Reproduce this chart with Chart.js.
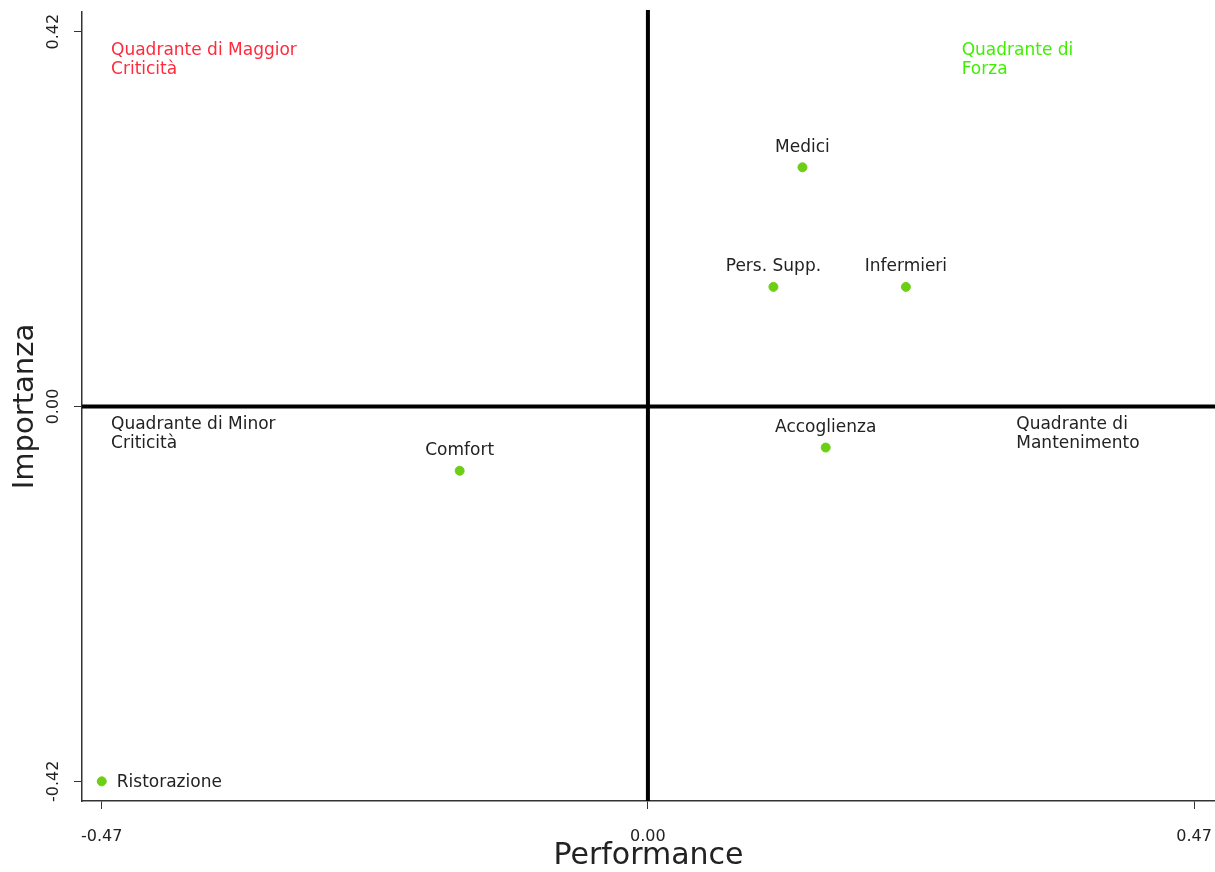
<!DOCTYPE html>
<html lang="it">
<head>
<meta charset="UTF-8">
<title>Importanza / Performance</title>
<script src="https://cdn.jsdelivr.net/npm/chart.js"></script>
<style>
  html, body { margin: 0; padding: 0; background: #fff; }
  #wrap { width: 1215px; height: 872px; }
</style>
</head>
<body>
<div id="wrap"><canvas id="matrice" width="1215" height="872"></canvas></div>
<script>
// dati della matrice importanza / performance
const aree = ['Medici', 'Pers. Supp.', 'Infermieri', 'Accoglienza', 'Comfort', 'Ristorazione'];
const performance = [0.133, 0.108, 0.222, 0.153, -0.162, -0.47];
const importanza = [0.268, 0.134, 0.134, -0.046, -0.072, -0.42];
const xTicks = [-0.47, 0, 0.47];
const yTicks = [-0.42, 0, 0.42];

const FONT = '"DejaVu Sans", sans-serif';

// etichette dei quadranti (coordinate nello spazio dei dati)
const quadranti = [
  { righe: ['Quadrante di Maggior', 'Criticità'], x: -0.462, y: 0.399, colore: '#ff2a3c' },
  { righe: ['Quadrante di', 'Forza'], x: 0.270, y: 0.399, colore: '#3ef000' },
  { righe: ['Quadrante di Minor', 'Criticità'], x: -0.462, y: -0.020, colore: '#222' },
  { righe: ['Quadrante di', 'Mantenimento'], x: 0.317, y: -0.020, colore: '#222' }
];

const punti = performance.map((v, i) => ({ x: v, y: importanza[i] }));

const decorazioni = {
  id: 'decorazioni',
  beforeDatasetsDraw(chart) {
    const { ctx, chartArea, scales: { x, y } } = chart;
    ctx.save();
    // assi dello zero
    ctx.strokeStyle = '#000';
    ctx.lineWidth = 4;
    ctx.beginPath();
    const x0 = x.getPixelForValue(0);
    const y0 = y.getPixelForValue(0);
    ctx.moveTo(x0, chartArea.top - 2);
    ctx.lineTo(x0, chartArea.bottom);
    ctx.moveTo(chartArea.left, y0);
    ctx.lineTo(chartArea.right, y0);
    ctx.stroke();

    // etichette dei quadranti
    ctx.font = '17px ' + FONT;
    ctx.textAlign = 'left';
    ctx.textBaseline = 'middle';
    quadranti.forEach(q => {
      ctx.fillStyle = q.colore;
      q.righe.forEach((r, k) => {
        ctx.fillText(r, x.getPixelForValue(q.x), y.getPixelForValue(q.y) + k * 19);
      });
    });

    // etichette ruotate dell'asse y
    ctx.fillStyle = '#222';
    ctx.font = '16px ' + FONT;
    ctx.textAlign = 'center';
    yTicks.forEach(v => {
      ctx.save();
      ctx.translate(54, y.getPixelForValue(v));
      ctx.rotate(-Math.PI / 2);
      ctx.fillText(v.toFixed(2), 0, 0);
      ctx.restore();
    });
    ctx.restore();
  },
  afterDatasetsDraw(chart) {
    const { ctx, scales: { x, y } } = chart;
    ctx.save();
    ctx.font = '17px ' + FONT;
    ctx.fillStyle = '#222';
    ctx.textBaseline = 'middle';
    aree.forEach((nome, i) => {
      const px = x.getPixelForValue(performance[i]);
      const py = y.getPixelForValue(importanza[i]);
      if (nome === 'Ristorazione') {
        ctx.textAlign = 'left';
        ctx.fillText(nome, px + 15, py + 1);
      } else {
        ctx.textAlign = 'center';
        ctx.fillText(nome, px, py - 20);
      }
    });
    ctx.restore();
  }
};

new Chart(document.getElementById('matrice'), {
  type: 'scatter',
  data: {
    datasets: [{
      data: punti,
      backgroundColor: '#6ccf14',
      borderColor: '#6ccf14',
      pointRadius: 4.5,
      pointHoverRadius: 4.5
    }]
  },
  options: {
    responsive: false,
    animation: false,
    layout: { autoPadding: false, padding: { top: 12, right: 0, left: 0, bottom: 0 } },
    plugins: { legend: { display: false }, tooltip: { enabled: false } },
    scales: {
      x: {
        min: -0.487,
        max: 0.488,
        afterBuildTicks: s => { s.ticks = xTicks.map(v => ({ value: v })); },
        afterFit: s => { s.height = 71; s.paddingLeft = 0; s.paddingRight = 0; },
        grid: { drawOnChartArea: false, drawTicks: true, tickLength: 8, color: '#333' },
        border: { display: true, color: '#333', width: 1.5 },
        ticks: {
          color: '#222',
          font: { family: FONT, size: 16 },
          padding: 18,
          maxRotation: 0,
          callback: v => Number(v).toFixed(2)
        },
        title: {
          display: true,
          text: 'Performance',
          color: '#222',
          font: { family: FONT, size: 30, lineHeight: 1 },
          padding: { top: 0, bottom: 1 }
        }
      },
      y: {
        min: -0.442,
        max: 0.442,
        afterBuildTicks: s => { s.ticks = yTicks.map(v => ({ value: v })); },
        afterFit: s => { s.width = 82; s.paddingTop = 0; s.paddingBottom = 0; },
        grid: { drawOnChartArea: false, drawTicks: true, tickLength: 8, color: '#333' },
        border: { display: true, color: '#333', width: 1.5 },
        ticks: { color: 'transparent', font: { family: FONT, size: 14 } },
        title: {
          display: true,
          text: 'Importanza',
          color: '#222',
          font: { family: FONT, size: 29, lineHeight: 1 },
          padding: { top: 11, bottom: 0 }
        }
      }
    }
  },
  plugins: [decorazioni]
});
</script>
</body>
</html>
